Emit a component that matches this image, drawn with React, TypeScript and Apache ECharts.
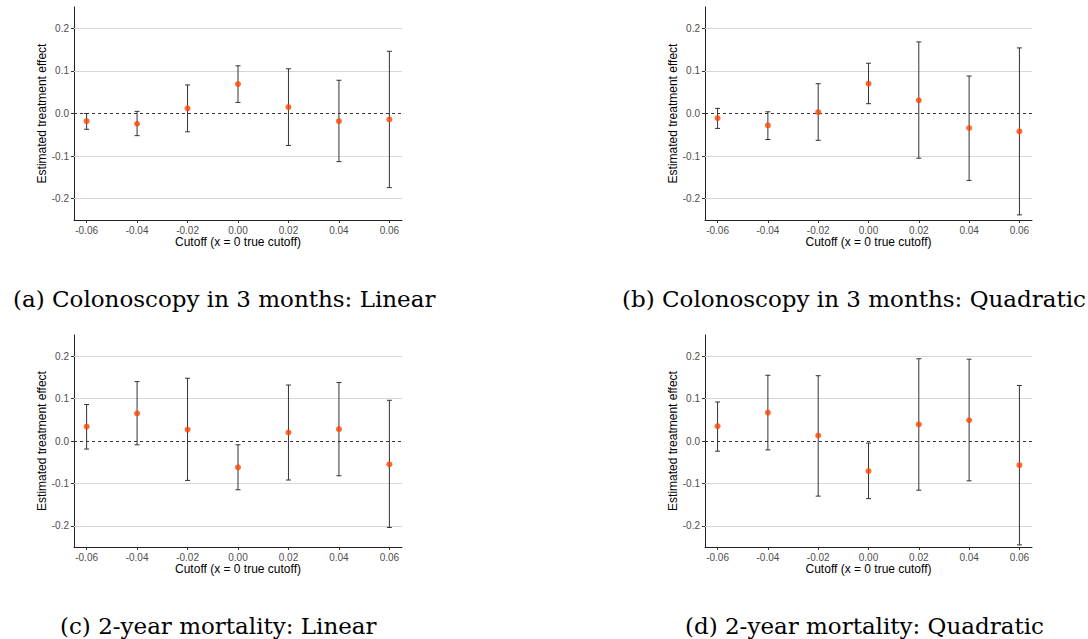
import React, { useEffect, useRef } from "react";
import * as echarts from "echarts";

const cutoffs = [-0.06, -0.04, -0.02, 0, 0.02, 0.04, 0.06];
const xTicks = [-0.06, -0.04, -0.02, 0, 0.02, 0.04, 0.06];
const yTicks = [-0.2, -0.1, 0, 0.1, 0.2];
const gridYs = [-0.2, -0.1, 0.1, 0.2];

// (a) Colonoscopy in 3 months: Linear
const estA = [-0.018, -0.024, 0.012, 0.069, 0.015, -0.018, -0.014];
const lowA = [-0.037, -0.052, -0.043, 0.026, -0.075, -0.113, -0.174];
const upA = [0.0, 0.005, 0.067, 0.112, 0.105, 0.078, 0.146];
// (b) Colonoscopy in 3 months: Quadratic
const estB = [-0.011, -0.028, 0.003, 0.07, 0.031, -0.034, -0.042];
const lowB = [-0.035, -0.061, -0.063, 0.023, -0.105, -0.157, -0.238];
const upB = [0.012, 0.004, 0.07, 0.118, 0.168, 0.088, 0.154];
// (c) 2-year mortality: Linear
const estC = [0.034, 0.065, 0.027, -0.062, 0.02, 0.028, -0.055];
const lowC = [-0.019, -0.009, -0.093, -0.115, -0.092, -0.082, -0.204];
const upC = [0.086, 0.14, 0.148, -0.009, 0.132, 0.138, 0.096];
// (d) 2-year mortality: Quadratic
const estD = [0.035, 0.067, 0.013, -0.071, 0.039, 0.049, -0.057];
const lowD = [-0.024, -0.021, -0.13, -0.136, -0.116, -0.094, -0.245];
const upD = [0.092, 0.155, 0.154, -0.005, 0.194, 0.193, 0.131];

const captions = [
  "(a) Colonoscopy in 3 months: Linear",
  "(b) Colonoscopy in 3 months: Quadratic",
  "(c) 2-year mortality: Linear",
  "(d) 2-year mortality: Quadratic",
];

const panels = [
  { est: estA, low: lowA, up: upA },
  { est: estB, low: lowB, up: upB },
  { est: estC, low: lowC, up: upC },
  { est: estD, low: lowD, up: upD },
];

const gridPos = [
  { left: 74, top: 7, width: 328, height: 213 },
  { left: 705, top: 7, width: 327, height: 213 },
  { left: 74, top: 335, width: 328, height: 212 },
  { left: 705, top: 335, width: 327, height: 212 },
];

const captionPos = [
  { left: 8, top: 282 },
  { left: 617, top: 282 },
  { left: 55, top: 609 },
  { left: 680, top: 609 },
];

export default function App() {
  const ref = useRef<HTMLDivElement>(null);
  useEffect(() => {
    if (!ref.current) return;
    const chart = echarts.init(ref.current, null, { renderer: "svg" });
    const axisFont = "Liberation Sans, Arial, sans-serif";

    const grids = gridPos.map((g) => ({ ...g, containLabel: false }));
    const xAxes = gridPos.map((_, i) => ({
      type: "value",
      gridIndex: i,
      min: -0.065,
      max: 0.065,
      name: "Cutoff (x = 0 true cutoff)",
      nameLocation: "middle",
      nameGap: 16,
      nameTextStyle: { color: "#000", fontSize: 12, fontFamily: axisFont },
      axisLine: { show: true, onZero: false, lineStyle: { color: "#222", width: 1 } },
      axisTick: { show: true, length: 3, customValues: xTicks, lineStyle: { color: "#333" } },
      axisLabel: {
        show: true,
        customValues: xTicks,
        formatter: (v: number) => v.toFixed(2),
        color: "#4d4d4d",
        fontSize: 10,
        fontFamily: axisFont,
        margin: 5,
      },
      splitLine: { show: false },
    }));
    const yAxes = gridPos.map((_, i) => ({
      type: "value",
      gridIndex: i,
      min: -0.25,
      max: 0.25,
      name: "Estimated treatment effect",
      nameLocation: "middle",
      nameGap: 19,
      nameTextStyle: { color: "#000", fontSize: 12, fontFamily: axisFont },
      axisLine: { show: true, onZero: false, lineStyle: { color: "#222", width: 1 } },
      axisTick: { show: true, length: 3, customValues: yTicks, lineStyle: { color: "#333" } },
      axisLabel: {
        show: true,
        customValues: yTicks,
        formatter: (v: number) => v.toFixed(1),
        color: "#4d4d4d",
        fontSize: 10,
        fontFamily: axisFont,
        margin: 5,
      },
      splitLine: { show: false },
    }));

    const series: any[] = [];
    panels.forEach((p, i) => {
      series.push({
        type: "custom",
        xAxisIndex: i,
        yAxisIndex: i,
        z: 2,
        silent: true,
        data: cutoffs.map((c, k) => [c, p.low[k], p.up[k]]),
        encode: { x: 0, y: [1, 2] },
        renderItem: (params: any, api: any) => {
          const x = api.value(0);
          const lo = api.coord([x, api.value(1)]);
          const hi = api.coord([x, api.value(2)]);
          const hw = 2.5;
          const style = { stroke: "#333", lineWidth: 1 };
          return {
            type: "group",
            children: [
              { type: "line", shape: { x1: lo[0], y1: hi[1], x2: lo[0], y2: lo[1] }, style },
              { type: "line", shape: { x1: lo[0] - hw, y1: hi[1], x2: lo[0] + hw, y2: hi[1] }, style },
              { type: "line", shape: { x1: lo[0] - hw, y1: lo[1], x2: lo[0] + hw, y2: lo[1] }, style },
            ],
          };
        },
        markLine: {
          z: 1,
          silent: true,
          symbol: "none",
          label: { show: false },
          data: [
            ...gridYs.map((v) => ({ yAxis: v, lineStyle: { color: "#d6d6d6", width: 1, type: "solid" } })),
            { yAxis: 0, lineStyle: { color: "#333", width: 1, type: [3, 3] } },
          ],
        },
      });
      series.push({
        type: "scatter",
        xAxisIndex: i,
        yAxisIndex: i,
        z: 3,
        silent: true,
        symbol: "circle",
        symbolSize: 6,
        itemStyle: { color: "#ff4500" },
        data: cutoffs.map((c, k) => [c, p.est[k]]),
      });
    });

    chart.setOption({
      animation: false,
      backgroundColor: "#fff",
      title: captions.map((t, i) => ({
        text: t,
        left: captionPos[i].left,
        top: captionPos[i].top,
        textStyle: {
          fontFamily: "DejaVu Serif, serif",
          fontWeight: "normal",
          fontSize: 23,
          color: "#000",
        },
      })),
      grid: grids,
      xAxis: xAxes,
      yAxis: yAxes,
      series,
    });
    return () => chart.dispose();
  }, []);
  return (
    <div
      ref={ref}
      style={{ position: "fixed", left: 0, top: 0, width: 1088, height: 639 }}
    />
  );
}
